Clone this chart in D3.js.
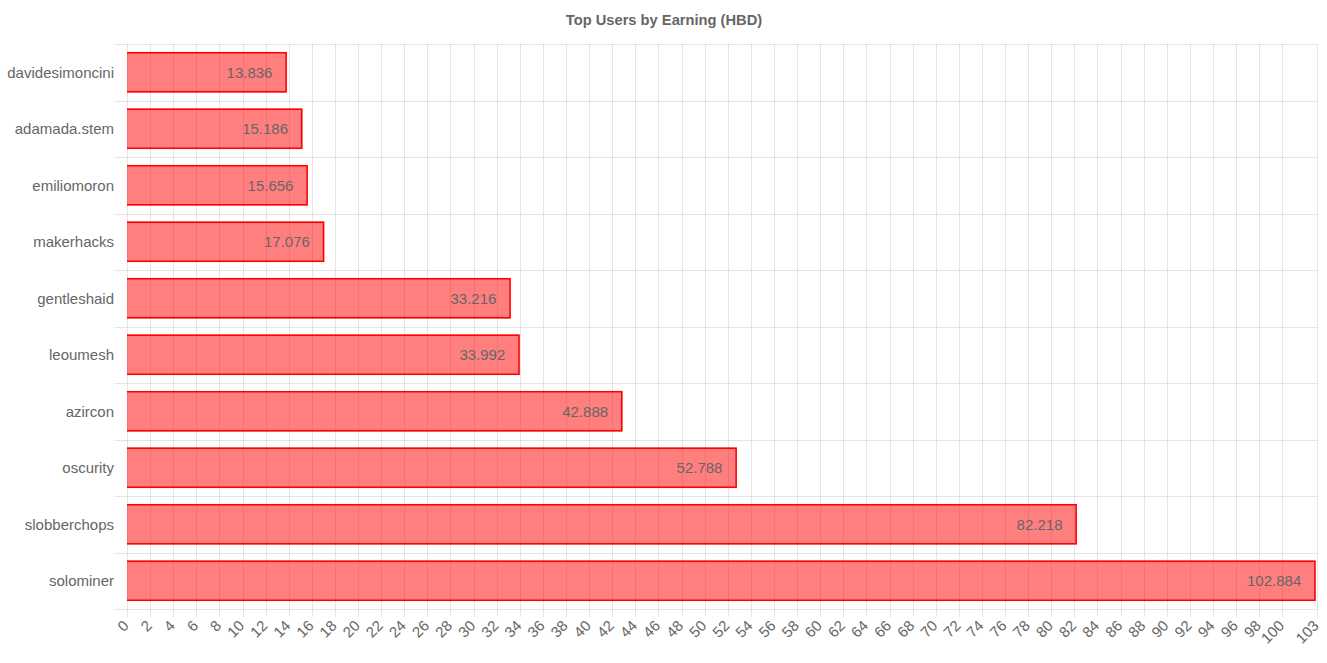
<!DOCTYPE html>
<html>
<head>
<meta charset="utf-8">
<script src="https://cdn.jsdelivr.net/npm/d3@7/dist/d3.min.js"></script>
<style>
  html, body { margin: 0; padding: 0; background: #fff; }
  svg { display: block; }
  text { font-family: "Liberation Sans", Arial, Helvetica, sans-serif; }
</style>
</head>
<body>
<svg id="chart" width="1327" height="663"></svg>
<script>
const users = ["davidesimoncini", "adamada.stem", "emiliomoron", "makerhacks", "gentleshaid", "leoumesh", "azircon", "oscurity", "slobberchops", "solominer"];
const earnings = [13.836, 15.186, 15.656, 17.076, 33.216, 33.992, 42.888, 52.788, 82.218, 102.884];
const xTicks = [0,2,4,6,8,10,12,14,16,18,20,22,24,26,28,30,32,34,36,38,40,42,44,46,48,50,52,54,56,58,60,62,64,66,68,70,72,74,76,78,80,82,84,86,88,90,92,94,96,98,100,103];
const xMax = 103;
const chartTitle = "Top Users by Earning (HBD)";

(function () {
const svg = d3.select("#chart");
const pL = 127, pR = 1317, pT = 44, pB = 609;
const gridColor = "rgba(0,0,0,0.1)";
const textColor = "#666";

const x = d3.scaleLinear().domain([0, xMax]).range([pL, pR]);
const y = d3.scaleBand().domain(users).range([pT, pB]);
const barH = y.bandwidth() * 0.72;

// title
svg.append("text")
  .attr("x", (pL + pR) / 2 - 58)
  .attr("y", 25)
  .attr("text-anchor", "middle")
  .attr("font-size", 14.7)
  .attr("font-weight", "bold")
  .attr("fill", textColor)
  .text(chartTitle);

// vertical grid lines + tick marks
const g = svg.append("g");
g.selectAll("line.vg").data(xTicks).join("line")
  .attr("class", "vg")
  .attr("x1", d => Math.round(x(d)) + 0.5)
  .attr("x2", d => Math.round(x(d)) + 0.5)
  .attr("y1", pT)
  .attr("y2", pB + 8)
  .attr("stroke", gridColor)
  .attr("stroke-width", 1);

// horizontal grid lines (category boundaries)
const bounds = users.map(u => y(u)).concat([pB]);
g.selectAll("line.hg").data(bounds).join("line")
  .attr("class", "hg")
  .attr("x1", pL - 12)
  .attr("x2", pR)
  .attr("y1", d => Math.round(d) + 0.5)
  .attr("y2", d => Math.round(d) + 0.5)
  .attr("stroke", gridColor)
  .attr("stroke-width", 1);

// bars
const bars = svg.append("g");
bars.selectAll("rect").data(users).join("rect")
  .attr("x", x(0))
  .attr("y", (d) => y(d) + (y.bandwidth() - barH) / 2)
  .attr("width", (d, i) => x(earnings[i]) - x(0))
  .attr("height", barH)
  .attr("fill", "rgba(255,0,0,0.5)");

// borders (left side skipped)
const bw = 1.5;
bars.selectAll("path").data(users).join("path")
  .attr("d", (d, i) => {
    const y0 = y(d) + (y.bandwidth() - barH) / 2 + bw / 2;
    const y1 = y(d) + (y.bandwidth() + barH) / 2 - bw / 2;
    const x0 = x(0);
    const x1 = x(earnings[i]) - bw / 2;
    return `M${x0},${y0}L${x1},${y0}L${x1},${y1}L${x0},${y1}`;
  })
  .attr("fill", "none")
  .attr("stroke", "#ff0000")
  .attr("stroke-width", bw);

// value labels
svg.append("g").selectAll("text").data(users).join("text")
  .attr("x", (d, i) => x(earnings[i]) - 14.4)
  .attr("y", d => y(d) + y.bandwidth() / 2)
  .attr("dy", "0.35em")
  .attr("text-anchor", "end")
  .attr("font-size", 15)
  .attr("fill", textColor)
  .text((d, i) => earnings[i]);

// y labels
svg.append("g").selectAll("text").data(users).join("text")
  .attr("x", pL - 13)
  .attr("y", d => y(d) + y.bandwidth() / 2)
  .attr("dy", "0.35em")
  .attr("text-anchor", "end")
  .attr("font-size", 15)
  .attr("fill", textColor)
  .text(d => d);

// x tick labels rotated
svg.append("g").selectAll("text").data(xTicks).join("text")
  .attr("transform", d => `translate(${x(d) - 1},${pB + 14}) rotate(-45)`)
  .attr("text-anchor", "end")
  .attr("dy", "0.35em")
  .attr("font-size", 15)
  .attr("fill", textColor)
  .text(d => d);
})();
</script>
</body>
</html>
